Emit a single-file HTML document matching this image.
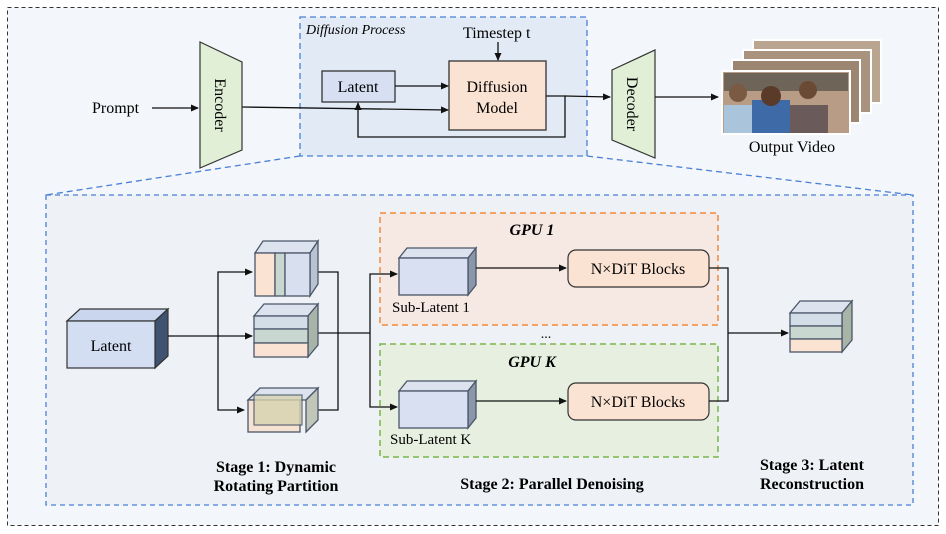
<!DOCTYPE html>
<html><head><style>body{margin:0;background:#fff}svg{display:block}text{font-family:"Liberation Serif",serif}</style></head>
<body>
<svg width="946" height="534" viewBox="0 0 946 534" xmlns="http://www.w3.org/2000/svg">
<defs>
<marker id="a" markerWidth="8" markerHeight="8" refX="7" refY="4" orient="auto" markerUnits="userSpaceOnUse"><path d="M0,0.5 L8,4 L0,7.5z" fill="#111"/></marker>
</defs>
<rect x="7.5" y="7.5" width="931" height="518" fill="#f3f6fa" stroke="#333" stroke-dasharray="4,3"/>
<!-- diffusion box -->
<rect x="300" y="17" width="287" height="139" fill="#e2ebf5" stroke="#4a7fd6" stroke-width="1.3" stroke-dasharray="6,4"/>
<text x="306" y="34" font-size="14" font-style="italic">Diffusion Process</text>
<text x="463" y="38" font-size="16">Timestep t</text>
<line x1="498" y1="42" x2="498" y2="60" stroke="#111" stroke-width="1.3" marker-end="url(#a)"/>
<rect x="322" y="71" width="73" height="31" fill="#d6e0f2" stroke="#333" stroke-width="1.3"/>
<text x="358" y="92" font-size="16" text-anchor="middle">Latent</text>
<rect x="449" y="61" width="97" height="69" fill="#fbe3d4" stroke="#333" stroke-width="1.3"/>
<text x="497" y="92" font-size="16" text-anchor="middle">Diffusion</text>
<text x="497" y="113" font-size="16" text-anchor="middle">Model</text>
<line x1="395" y1="86" x2="448" y2="86" stroke="#111" stroke-width="1.3" marker-end="url(#a)"/>
<polyline points="546,96 565,96 565,137 358,137 358,103" fill="none" stroke="#111" stroke-width="1.3" marker-end="url(#a)"/>
<line x1="242" y1="107" x2="448" y2="110" stroke="#111" stroke-width="1.3" marker-end="url(#a)"/>
<line x1="565" y1="96" x2="610" y2="97" stroke="#111" stroke-width="1.3" marker-end="url(#a)"/>
<!-- encoder/decoder -->
<polygon points="200,42 242,62 242,150 200,168" fill="#e0efd6" stroke="#333" stroke-width="1.2"/>
<text transform="translate(215,105) rotate(90)" font-size="16" text-anchor="middle">Encoder</text>
<polygon points="612,70 655,50 655,158 612,140" fill="#e0efd6" stroke="#333" stroke-width="1.2"/>
<text transform="translate(627,104) rotate(90)" font-size="16" text-anchor="middle">Decoder</text>
<text x="92" y="113" font-size="16">Prompt</text>
<line x1="152" y1="108" x2="198" y2="108" stroke="#111" stroke-width="1.3" marker-end="url(#a)"/>
<line x1="655" y1="97" x2="718" y2="97" stroke="#111" stroke-width="1.3" marker-end="url(#a)"/>
<!-- video frames -->
<rect x="753" y="40" width="128" height="63" fill="#b9a590" stroke="#fff" stroke-width="2"/>
<rect x="743" y="50" width="128" height="63" fill="#a9937e" stroke="#fff" stroke-width="2"/>
<rect x="732" y="60" width="128" height="63" fill="#9c8672" stroke="#fff" stroke-width="2"/>
<rect x="722" y="71" width="128" height="63" fill="#b89c86" stroke="#fff" stroke-width="2"/>
<rect x="724" y="73" width="124" height="18" fill="#6e6458"/>
<rect x="724" y="105" width="28" height="28" fill="#aac4dc"/>
<rect x="752" y="100" width="38" height="33" fill="#3f6aa8"/>
<rect x="790" y="105" width="38" height="28" fill="#6a5a5a"/>
<circle cx="738" cy="93" r="9" fill="#7a5a42"/><circle cx="771" cy="96" r="10" fill="#5a3a28"/><circle cx="808" cy="90" r="9" fill="#6b4a35"/>
<text x="792" y="152" font-size="16" text-anchor="middle">Output Video</text>
<!-- zoom lines -->
<line x1="300" y1="156" x2="46" y2="195" stroke="#4a7fd6" stroke-width="1.3" stroke-dasharray="6,4"/>
<line x1="587" y1="156" x2="913" y2="195" stroke="#4a7fd6" stroke-width="1.3" stroke-dasharray="6,4"/>
<rect x="46" y="195" width="867" height="310" fill="#eef2f6" stroke="#4a7fd6" stroke-width="1.3" stroke-dasharray="5,4"/>
<!-- GPU boxes -->
<rect x="380" y="213" width="338" height="112" fill="#f6e8e2" stroke="#ef8a3c" stroke-width="1.5" stroke-dasharray="6,4"/>
<rect x="380" y="344" width="338" height="113" fill="#e6efe0" stroke="#7ab648" stroke-width="1.5" stroke-dasharray="6,4"/>
<text x="532" y="235" font-size="16" font-weight="bold" font-style="italic" text-anchor="middle">GPU 1</text>
<text x="532" y="367" font-size="16" font-weight="bold" font-style="italic" text-anchor="middle">GPU K</text>
<text x="546" y="338" font-size="14" text-anchor="middle">...</text>
<!-- big latent cube -->
<polygon points="67,321 80,309 168,309 155,321" fill="#c9d6ee" stroke="#333" stroke-width="1.2"/>
<polygon points="155,321 168,309 168,356 155,368" fill="#3f5270" stroke="#333" stroke-width="1.2"/>
<rect x="67" y="321" width="88" height="47" fill="#d3def2" stroke="#333" stroke-width="1.2"/>
<text x="111" y="351" font-size="16" text-anchor="middle">Latent</text>
<!-- arrows stage1 -->
<line x1="168" y1="336" x2="252" y2="336" stroke="#111" stroke-width="1.3" marker-end="url(#a)"/>
<polyline points="218,336 218,272 252,272" fill="none" stroke="#111" stroke-width="1.3" marker-end="url(#a)"/>
<polyline points="218,336 218,410 244,410" fill="none" stroke="#111" stroke-width="1.3" marker-end="url(#a)"/>
<polyline points="310,272 338,272 338,410 310,410" fill="none" stroke="#111" stroke-width="1.3"/>
<line x1="308" y1="333" x2="370" y2="333" stroke="#111" stroke-width="1.3"/>
<polyline points="370,333 370,274 397,274" fill="none" stroke="#111" stroke-width="1.3" marker-end="url(#a)"/>
<polyline points="370,333 370,407 397,407" fill="none" stroke="#111" stroke-width="1.3" marker-end="url(#a)"/>
<!-- cube1 -->
<g stroke="#4a5668" stroke-width="1.3">
<polygon points="255,253 263,241 318,241 310,253" fill="#dde3ee"/>
<polygon points="310,253 318,241 318,284 310,296" fill="#b8c2d0"/>
<rect x="255" y="253" width="20" height="43" fill="#fbe3d4"/>
<rect x="275" y="253" width="10" height="43" fill="#c8d8d0"/>
<rect x="285" y="253" width="25" height="43" fill="#d8e0f0"/>
<!-- cube2 -->
<polygon points="254,316 264,304 318,304 308,316" fill="#dde3ee"/>
<polygon points="308,316 318,304 318,345 308,357" fill="#a8b4a8"/>
<rect x="254" y="316" width="54" height="13" fill="#d3dde8"/>
<rect x="254" y="329" width="54" height="14" fill="#c8d8d0"/>
<rect x="254" y="343" width="54" height="14" fill="#fbe3d4"/>
<!-- cube3 -->
<polygon points="248,400 260,388 318,388 306,400" fill="#dde3ee"/>
<polygon points="306,400 318,388 318,420 306,432" fill="#c0c6b8"/>
<rect x="248" y="400" width="52" height="32" fill="#f6e2d2"/>
<rect x="254" y="395" width="48" height="30" fill="#d8d4b0" opacity="0.8"/>
<!-- sub latent cubes -->
<polygon points="399,258 407,248 476,248 468,258" fill="#dde3ee"/>
<polygon points="468,258 476,248 476,285 468,295" fill="#8a96aa"/>
<rect x="399" y="258" width="69" height="37" fill="#d8e0f2"/>
<polygon points="399,391 407,381 476,381 468,391" fill="#dde3ee"/>
<polygon points="468,391 476,381 476,418 468,428" fill="#8a96aa"/>
<rect x="399" y="391" width="69" height="37" fill="#d8e0f2"/>
<!-- output cube -->
<polygon points="790,313 800,301 852,301 842,313" fill="#dde3ee"/>
<polygon points="842,313 852,301 852,340 842,352" fill="#a8b4a8"/>
<rect x="790" y="313" width="52" height="13" fill="#d3dde8"/>
<rect x="790" y="326" width="52" height="13" fill="#c8d8d0"/>
<rect x="790" y="339" width="52" height="13" fill="#fbe3d4"/>
</g>
<text x="392" y="312" font-size="15">Sub-Latent 1</text>
<text x="390" y="444" font-size="15">Sub-Latent K</text>
<rect x="568" y="250" width="141" height="37" rx="8" fill="#fbe3d4" stroke="#333" stroke-width="1.2"/>
<text x="638" y="274" font-size="16" text-anchor="middle">N×DiT Blocks</text>
<rect x="568" y="383" width="141" height="37" rx="8" fill="#fbe3d4" stroke="#333" stroke-width="1.2"/>
<text x="638" y="407" font-size="16" text-anchor="middle">N×DiT Blocks</text>
<line x1="476" y1="268" x2="566" y2="268" stroke="#111" stroke-width="1.3" marker-end="url(#a)"/>
<line x1="476" y1="401" x2="566" y2="401" stroke="#111" stroke-width="1.3" marker-end="url(#a)"/>
<polyline points="709,268 728,268 728,401 709,401" fill="none" stroke="#111" stroke-width="1.3"/>
<line x1="728" y1="333" x2="788" y2="333" stroke="#111" stroke-width="1.3" marker-end="url(#a)"/>
<g font-size="16" font-weight="bold" text-anchor="middle">
<text x="276" y="472">Stage 1: Dynamic</text>
<text x="276" y="491">Rotating Partition</text>
<text x="552" y="489">Stage 2: Parallel Denoising</text>
<text x="812" y="470">Stage 3: Latent</text>
<text x="812" y="489">Reconstruction</text>
</g>
</svg>
</body></html>
